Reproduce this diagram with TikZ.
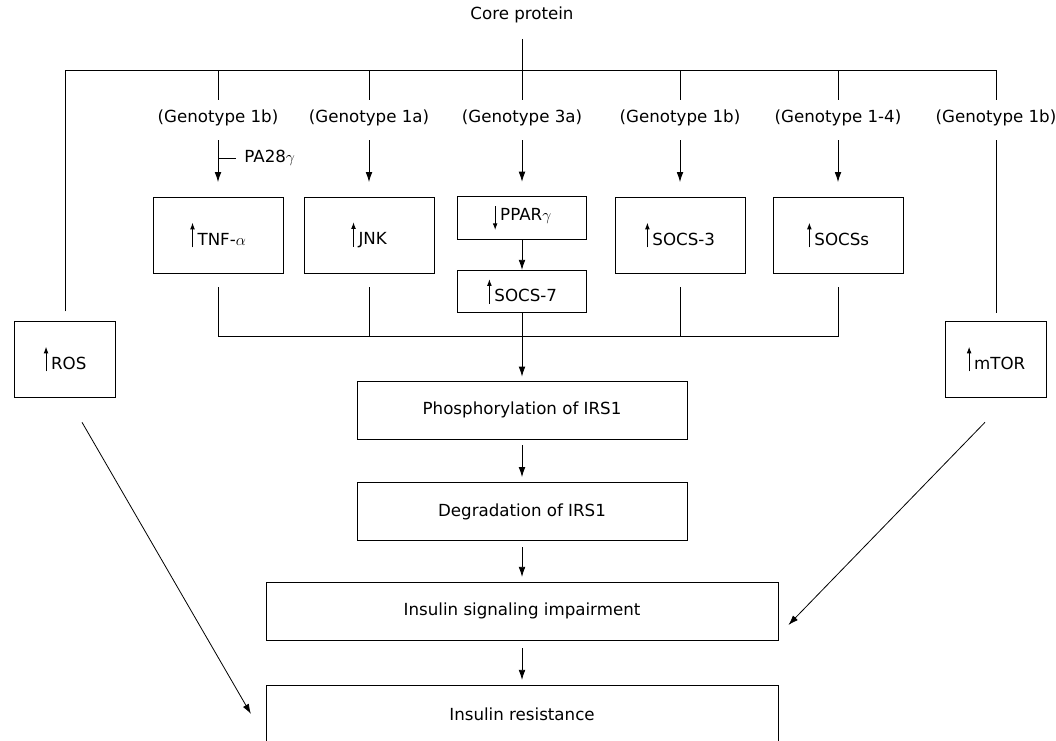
\documentclass[tikz,border=0pt]{standalone}
\usepackage{fontspec}
\setmainfont{DejaVu Sans}
\usetikzlibrary{arrows.meta}
\newcommand{\uparr}{\tikz[baseline=0pt]\draw[-{Latex[length=5pt,width=3.6pt]},line width=0.7pt] (0pt,-1.5pt) -- (0pt,17pt);\hspace{2pt}}
\newcommand{\downarr}{\tikz[baseline=0pt]\draw[-{Latex[length=5pt,width=3.6pt]},line width=0.7pt] (0pt,11pt) -- (0pt,-7pt);\hspace{2pt}}

\begin{document}
\begin{tikzpicture}[x=0.75pt,y=-0.75pt,line width=0.6pt,font=\fontsize{12.5}{15}\selectfont,
  box/.style={draw, inner sep=0pt, minimum width=97.5pt, minimum height=57pt},
  flat/.style={draw, inner sep=0pt, minimum width=97pt, minimum height=32pt},
  side/.style={draw, inner sep=0pt, minimum width=76pt, minimum height=57pt},
  wide/.style={draw, inner sep=0pt, minimum height=43.5pt},
  arr/.style={-{Latex[length=7.5pt,width=5pt]}}]
\useasboundingbox (0,0) rectangle (1056,740);
\node (core) at (522,15) {Core protein};
\coordinate (busR) at (996,70);
\coordinate (busB) at (522,336);
% genotypes
\node (g1) at (218,118) {(Genotype 1b)};
\node (g2) at (369,118) {(Genotype 1a)};
\node (g3) at (522,118) {(Genotype 3a)};
\node (g4) at (680,118) {(Genotype 1b)};
\node (g5) at (838,118) {(Genotype 1-4)};
\node (g6) at (996,118) {(Genotype 1b)};
% boxes
\node[box] (tnf) at (218,235) {\uparr TNF-$\alpha$};
\node[box] (jnk) at (369,235) {\uparr JNK};
\node[flat] (ppar) at (522,218) {\downarr PPAR$\gamma$};
\node[flat] (socsseven) at (522,291.5) {\uparr SOCS-7};
\node[box] (socsthree) at (680,235) {\uparr SOCS-3};
\node[box] (socss) at (838,235) {\uparr SOCSs};
\node[side] (ros) at (65,359) {\uparr ROS};
\node[side] (mtor) at (996,359) {\uparr mTOR};
\node[wide, minimum width=247.5pt] (phos) at (522,410) {Phosphorylation of IRS1};
\node[wide, minimum width=247.5pt, minimum height=44pt] (degr) at (522,511.5) {Degradation of IRS1};
\node[wide, minimum width=384pt] (sig) at (522,611) {Insulin signaling impairment};
\node[wide, minimum width=384pt] (res) at (522,714) {Insulin resistance};
\node[right, inner sep=0pt] (pa) at (244,158) {PA28$\gamma$};
\coordinate (paj) at (218,158);
% top bus
\draw (core.south) ++(0,11) -- (core |- busR);
\draw ([yshift=7pt]ros.north) |- (busR) -- ([yshift=4pt]g6.north);
\foreach \g in {g1,g2,g3,g4,g5}
  \draw (\g |- busR) -- ([yshift=4pt]\g.north);
\draw[arr] ([yshift=-7pt]g1.south) -- ([yshift=11pt]tnf.north);
\draw[arr] ([yshift=-7pt]g2.south) -- ([yshift=11pt]jnk.north);
\draw[arr] ([yshift=-7pt]g3.south) -- ([yshift=11pt]ppar.north);
\draw[arr] ([yshift=-7pt]g4.south) -- ([yshift=11pt]socsthree.north);
\draw[arr] ([yshift=-7pt]g5.south) -- ([yshift=11pt]socss.north);
\draw ([yshift=-7pt]g6.south) -- ([yshift=6pt]mtor.north);
\draw (paj) -- ([xshift=-6pt]pa.west);
\draw[arr] (ppar) -- (socsseven);
% bottom bus
\draw ([yshift=-10.5pt]tnf.south) |- (busB -| socss) -- ([yshift=-10.5pt]socss.south);
\draw ([yshift=-10.5pt]jnk.south) -- (jnk |- busB);
\draw ([yshift=-10.5pt]socsthree.south) -- (socsthree |- busB);
\draw (socsseven) -- (busB);
\draw[arr] (busB) -- ([yshift=3pt]phos.north);
\draw[arr, shorten <=4.5pt, shorten >=3.5pt] (phos) -- (degr);
\draw[arr, shorten <=4.5pt, shorten >=3.5pt] (degr) -- (sig);
\draw[arr, shorten <=6pt, shorten >=3.5pt] (sig) -- (res);
\draw[arr] ([shift={(17,25)}]ros.south) -- ([xshift=-11pt]res.west);
\draw[arr] ([shift={(-11,25)}]mtor.south) -- ([shift={(10,14)}]sig.east);
\end{tikzpicture}
\end{document}
